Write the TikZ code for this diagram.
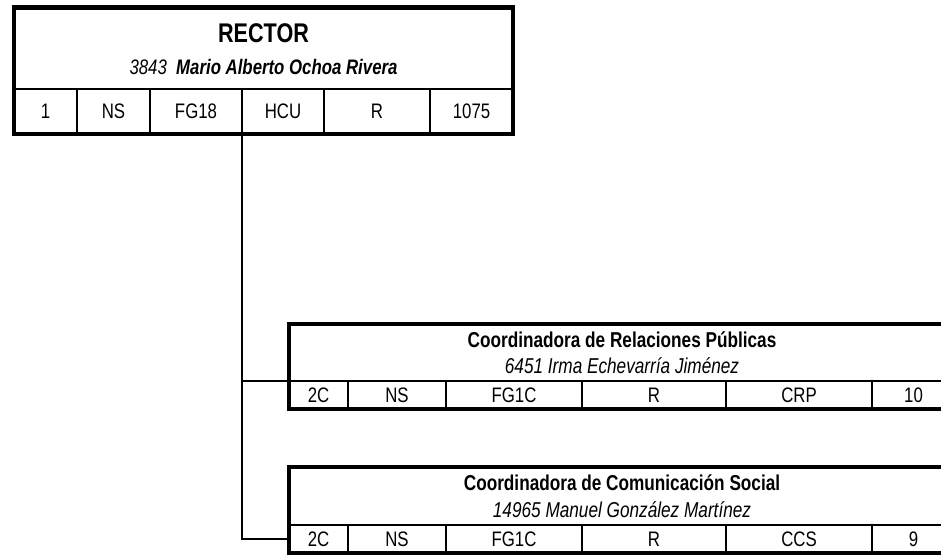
\documentclass[tikz,border=0pt]{standalone}
\usepackage{fontspec}
\setmainfont{Liberation Sans}[FakeStretch=0.8]
\begin{document}
\begin{tikzpicture}[x=1pt,y=-1pt,
  frame/.style={draw, line width=4.5pt, inner sep=0pt, outer sep=0pt},
  cell/.style={draw, line width=1.6pt, inner sep=0pt, outer sep=0pt, font=\fontsize{21}{24}\selectfont},
  lbl/.style={inner sep=0pt, outer sep=0pt},
  link/.style={draw, line width=1.8pt}]
\useasboundingbox (0,0) rectangle (941,554);
\clip (0,0) rectangle (941,554);

% ---------- RECTOR ----------
\node[cell, minimum width=63pt, minimum height=45pt] (r1) at (45.5,111.5) {1};
\node[cell, minimum width=73pt, minimum height=45pt] (r2) at (113.5,111.5) {NS};
\node[cell, minimum width=92pt, minimum height=45pt] (r3) at (196,111.5) {FG18};
\node[cell, minimum width=82pt, minimum height=45pt] (r4) at (283,111.5) {HCU};
\node[cell, minimum width=106pt, minimum height=45pt] (r5) at (377,111.5) {R};
\node[cell, minimum width=83pt, minimum height=45pt] (r6) at (471.5,111.5) {1075};
\node[lbl, font=\fontsize{27}{30}\selectfont\bfseries] (rt) at (263.5,33) {RECTOR};
\node[lbl, font=\fontsize{21}{24}\selectfont\itshape] (rn) at (263.5,67) {3843\ \ \textbf{Mario Alberto Ochoa Rivera}};
\node[frame, minimum width=499pt, minimum height=126.5pt] (rector) at (263.5,70.75) {};

% ---------- Coordinadora de Relaciones Publicas ----------
\node[cell, minimum width=59pt, minimum height=28pt] (a1) at (318.5,395) {2C};
\node[cell, minimum width=98pt, minimum height=28pt] (a2) at (397,395) {NS};
\node[cell, minimum width=136pt, minimum height=28pt] (a3) at (514,395) {FG1C};
\node[cell, minimum width=144pt, minimum height=28pt] (a4) at (654,395) {R};
\node[cell, minimum width=146pt, minimum height=28pt] (a5) at (799,395) {CRP};
\node[cell, minimum width=83pt, minimum height=28pt] (a6) at (913.5,395) {10};
\node[lbl, font=\fontsize{21.5}{24}\selectfont\bfseries] (at) at (622,339.5) {Coordinadora de Relaciones Públicas};
\node[lbl, font=\fontsize{21.5}{24}\selectfont\itshape] (an) at (622,366) {6451 Irma Echevarría Jiménez};
\node[frame, minimum width=666pt, minimum height=85pt] (crp) at (622,366.5) {};

% ---------- Coordinadora de Comunicacion Social ----------
\node[cell, minimum width=59pt, minimum height=28pt] (b1) at (318.5,539) {2C};
\node[cell, minimum width=98pt, minimum height=28pt] (b2) at (397,539) {NS};
\node[cell, minimum width=136pt, minimum height=28pt] (b3) at (514,539) {FG1C};
\node[cell, minimum width=144pt, minimum height=28pt] (b4) at (654,539) {R};
\node[cell, minimum width=146pt, minimum height=28pt] (b5) at (799,539) {CCS};
\node[cell, minimum width=83pt, minimum height=28pt] (b6) at (913.5,539) {9};
\node[lbl, font=\fontsize{21.5}{24}\selectfont\bfseries] (bt) at (622,483) {Coordinadora de Comunicación Social};
\node[lbl, font=\fontsize{21.5}{24}\selectfont\itshape] (bn) at (622,510) {14965 Manuel González Martínez};
\node[frame, minimum width=666pt, minimum height=86pt] (ccs) at (622,510) {};

% ---------- connectors ----------
\coordinate (top) at (r4.west |- rector.south);
\draw[link] (top) |- (b1.west);
\draw[link] (top |- a1.north) -- (a1.north west);
\end{tikzpicture}
\end{document}
